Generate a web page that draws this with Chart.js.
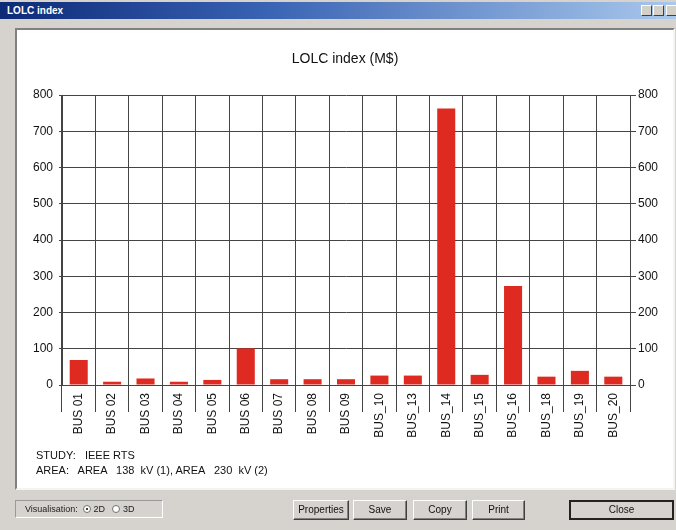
<!DOCTYPE html>
<html lang="en">
<head>
  <meta charset="UTF-8">
  <title>LOLC index</title>
  <style>
    * { box-sizing: border-box; }
    body {
      margin: 0;
      width: 676px;
      height: 530px;
      overflow: hidden;
      background: #d6d3ce;
      font-family: "Liberation Sans", Arial, sans-serif;
      position: relative;
    }
    #barra {
      position: absolute; left: 0; top: 2px; width: 676px; height: 17px;
      background: linear-gradient(to right, #0c2a78 0%, #3a64b4 40%, #a9c8ec 100%);
      color: #fff; font-weight: bold; font-size: 10px; line-height: 17px;
      padding-left: 7px;
    }
    .btnjan {
      position: absolute; top: 5px; width: 11px; height: 11px;
      background: #d4d0c8; border: 1px solid; border-color: #fff #404040 #404040 #fff;
    }
    #painel {
      position: absolute; left: 15px; top: 28px; width: 660px; height: 462px;
      background: #fff;
      border: 2px solid; border-color: #808080 #f4f4f4 #f4f4f4 #808080;
    }
    #grafico { position: absolute; left: 17px; top: 30px; }
    .info {
      position: absolute; left: 36px; font-size: 11px; white-space: pre; color: #111;
    }
    #grupo {
      position: absolute; left: 15px; top: 500px; width: 148px; height: 18px;
      border: 1px solid; border-color: #9a9a9a #fff #fff #9a9a9a;
      font-size: 9px; line-height: 16px; padding-left: 9px; color: #222; white-space: pre;
    }
    .radio {
      display: inline-block; width: 8px; height: 8px; border-radius: 50%;
      border: 1px solid #707070; background: #fff; vertical-align: -1px; position: relative;
    }
    .radio.on::after {
      content: ""; position: absolute; left: 2px; top: 2px; width: 2px; height: 2px;
      border-radius: 50%; background: #000;
    }
    .botao {
      position: absolute; top: 500px; height: 20px;
      background: #d6d3ce; font-size: 10px; text-align: center; line-height: 17px; color: #111;
      border: 1px solid; border-color: #fff #404040 #404040 #fff;
      box-shadow: inset -1px -1px 0 #808080;
    }
    #fechar { border: 2px solid #222; box-shadow: none; line-height: 16px; }
  </style>
</head>
<body>
  <!-- JANELA -->
  <div id="barra">LOLC index</div>
  <div class="btnjan" style="left:641px"></div>
  <div class="btnjan" style="left:653px"></div>
  <div class="btnjan" style="left:666px"></div>

  <div id="painel"></div>
  <canvas id="grafico" width="656" height="459"></canvas>

  <div class="info" style="top:449px">STUDY:   IEEE RTS</div>
  <div class="info" style="top:464px">AREA:   AREA   138  kV (1), AREA   230  kV (2)</div>

  <!-- BOTOES -->
  <div id="grupo">Visualisation:  <span class="radio on"></span> 2D   <span class="radio"></span> 3D</div>
  <div class="botao" style="left:293px;width:56px">Properties</div>
  <div class="botao" style="left:353px;width:54px">Save</div>
  <div class="botao" style="left:413px;width:54px">Copy</div>
  <div class="botao" style="left:472px;width:53px">Print</div>
  <div class="botao" id="fechar" style="left:569px;width:105px">Close</div>

  <script src="https://cdn.jsdelivr.net/npm/chart.js"></script>
  <script>
    // dados
    const barras = ['BUS 01', 'BUS 02', 'BUS 03', 'BUS 04', 'BUS 05', 'BUS 06', 'BUS 07', 'BUS 08', 'BUS 09',
                    'BUS_10', 'BUS_13', 'BUS_14', 'BUS_15', 'BUS_16', 'BUS_18', 'BUS_19', 'BUS_20'];
    const lolc = [69, 9, 18, 9, 14, 101, 16, 16, 16, 26, 26, 763, 28, 273, 23, 39, 23];
    const ticksY = [0, 100, 200, 300, 400, 500, 600, 700, 800];

    const corLinha = '#444';
    Chart.defaults.font.family = '"Liberation Sans", Arial, sans-serif';
    Chart.defaults.font.size = 12;
    Chart.defaults.color = '#111';

    const eixoY = (lado) => ({
      type: 'linear',
      position: lado,
      min: ticksY[0],
      max: ticksY[ticksY.length - 1],
      afterBuildTicks: (s) => { s.ticks = ticksY.map(v => ({ value: v })); },
      afterFit: (s) => { s.width = lado === 'left' ? 45 : 43; },
      border: { display: true, color: corLinha, width: 1 },
      grid: {
        color: corLinha,
        lineWidth: 1,
        drawOnChartArea: lado === 'left',
        tickLength: lado === 'left' ? 3 : 6
      },
      ticks: { padding: lado === 'left' ? 6 : 2 }
    });

    const ctx = document.getElementById('grafico').getContext('2d');
    new Chart(ctx, {
      type: 'bar',
      data: {
        labels: barras,
        datasets: [{
          label: 'LOLC index (M$)',
          data: lolc,
          yAxisID: 'y',
          backgroundColor: '#de2a20',
          borderWidth: 0,
          categoryPercentage: 1,
          barPercentage: 0.54
        }]
      },
      options: {
        responsive: false,
        animation: false,
        layout: { padding: 0 },
        plugins: {
          legend: { display: false },
          tooltip: { enabled: false },
          title: {
            display: true,
            text: 'LOLC index (M$)',
            color: '#111',
            font: { size: 14, weight: 'normal' },
            padding: { top: 20.6, bottom: 27.6 }
          }
        },
        scales: {
          x: {
            afterFit: (s) => { s.height = 104; },
            border: { display: true, color: corLinha, width: 1 },
            grid: { color: corLinha, lineWidth: 1, tickLength: 27, offset: true },
            ticks: { autoSkip: false, minRotation: 90, maxRotation: 90, padding: -19 }
          },
          y: eixoY('left'),
          y2: eixoY('right')
        }
      }
    });
  </script>
</body>
</html>
